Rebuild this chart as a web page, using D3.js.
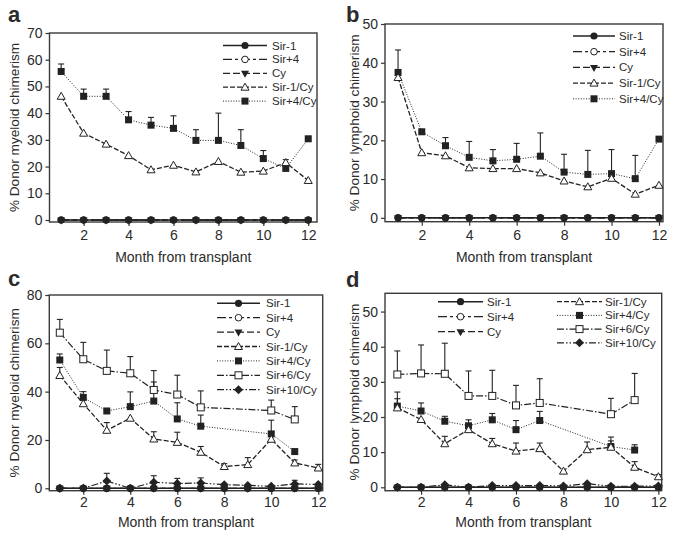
<!DOCTYPE html>
<html><head><meta charset="utf-8">
<script src="https://cdn.jsdelivr.net/npm/d3@7"></script>
<style>
body{margin:0;background:#fff}
svg{display:block}
text{font-family:"Liberation Sans",Arial,Helvetica,sans-serif;fill:#2b2b2b}
</style>
</head><body>
<svg id="chart" width="681" height="538"></svg>
<script>
// ---------- DATA ----------
const months = [1,2,3,4,5,6,7,8,9,10,11,12];
const xTickValues = [2,4,6,8,10,12];
const zeros = [0,0,0,0,0,0,0,0,0,0,0,0];

// Panel a: % donor myeloid chimerism
const aYTicks = [0,10,20,30,40,50,60,70];
const aSir1Cy   = [46.3,32.5,28.4,24.1,18.8,20.5,18.0,21.9,17.9,18.3,21.5,14.8];
const aSir4Cy   = [55.6,46.3,46.3,37.5,35.5,34.3,29.8,29.8,27.9,23.0,19.3,30.4];
const aSir4CyErr= [2.8,2.7,2.7,3.1,2.9,4.7,4.0,10.2,5.9,3.0,3.3,null];

// Panel b: % donor lymphoid chimerism
const bYTicks = [0,10,20,30,40,50];
const bSir1Cy   = [36.2,16.8,16.0,12.9,12.7,12.7,11.6,9.5,8.0,10.2,6.1,8.4];
const bSir4Cy   = [37.5,22.2,18.6,15.6,14.7,15.1,15.9,11.8,11.2,11.4,10.1,20.3];
const bSir4CyErr= [5.8,null,2.1,4.1,2.9,4.1,6.0,4.6,6.2,6.2,6.0,null];

// Panel c: % donor myeloid chimerism
const cYTicks = [0,20,40,60,80];
const cSir1Cy    = [46.7,35.0,24.0,29.0,20.4,19.0,14.9,9.0,9.8,20.3,10.5,8.4];
const cSir1CyErr = [3.3,2.6,3.2,null,3.0,4.2,2.4,1.2,2.9,3.0,1.2,1.5];
const cSir4Cy    = [53.1,37.6,32.0,33.8,36.1,28.7,25.7,null,null,22.5,15.2,null];
const cSir4CyErr = [2.5,2.4,null,6.1,7.9,6.7,4.6,null,null,5.7,null,null];
const cSir6Cy    = [64.4,53.4,48.6,47.6,40.7,38.8,33.5,null,null,32.2,28.5,null];
const cSir6CyErr = [5.5,7.0,8.6,6.9,8.0,8.0,6.8,null,null,4.3,5.3,null];
const cSir10Cy   = [0,0,3.0,0,2.5,2.0,2.2,1.5,1.2,0.8,1.8,1.6];
const cSir10CyErr= [null,null,3.2,null,2.7,2.1,2.1,null,null,null,1.5,null];

// Panel d: % donor lymphoid chimerism
const dYTicks = [0,10,20,30,40,50];
const dSir1Cy    = [22.6,19.3,12.4,16.4,12.4,10.3,11.0,4.6,10.7,11.4,5.7,3.0];
const dSir1CyErr = [2.6,null,2.1,null,1.5,2.3,1.6,null,2.2,1.8,1.6,0.6];
const dSir4Cy    = [23.1,21.7,18.8,17.5,19.2,16.4,19.0,null,null,11.6,10.6,null];
const dSir4CyErr = [4.0,2.3,1.4,1.7,1.8,2.6,2.6,null,null,2.7,1.5,null];
const dSir6Cy    = [32.1,32.4,32.3,26.0,26.0,23.3,24.0,null,null,20.8,24.8,null];
const dSir6CyErr = [6.7,8.1,8.7,7.1,7.3,5.7,6.9,null,null,4.5,7.6,null];
const dSir10Cy   = [0,0,0.7,0,0.5,0.5,0.5,0.4,1.0,0.3,0.3,0.4];

// ---------- STYLES ----------
const styles = {
  "Sir-1":     {dash:null,            marker:"circle",   w:1.6},
  "Sir+4":     {dash:"9,3,3,3",       marker:"ocircle",  w:1.3},
  "Cy":        {dash:"7,3",           marker:"tridown",  w:1.3},
  "Sir-1/Cy":  {dash:"5,2",           marker:"otri",     w:1.3},
  "Sir+4/Cy":  {dash:"1,1.6",         marker:"square",   w:1.0},
  "Sir+6/Cy":  {dash:"7,2,1.5,2",     marker:"osquare",  w:1.2},
  "Sir+10/Cy": {dash:"7,2,1.5,2,1.5,2", marker:"diamond", w:1.2}
};
const INK = "#222";

const svg = d3.select("#chart");

function marker(g, type, x, y){
  switch(type){
    case "circle":  g.append("circle").attr("cx",x).attr("cy",y).attr("r",3.6).attr("fill",INK); break;
    case "ocircle": g.append("circle").attr("cx",x).attr("cy",y).attr("r",3.3).attr("fill","#fff").attr("stroke",INK).attr("stroke-width",1); break;
    case "tridown": g.append("path").attr("d",`M${x-4},${y-2.5}L${x+4},${y-2.5}L${x},${y+4.5}Z`).attr("fill",INK); break;
    case "otri":    g.append("path").attr("d",`M${x-4},${y+3}L${x+4},${y+3}L${x},${y-4}Z`).attr("fill","#fff").attr("stroke",INK).attr("stroke-width",1); break;
    case "square":  g.append("rect").attr("x",x-3.5).attr("y",y-3.5).attr("width",7).attr("height",7).attr("fill",INK); break;
    case "osquare": g.append("rect").attr("x",x-3.5).attr("y",y-3.5).attr("width",7).attr("height",7).attr("fill","#fff").attr("stroke",INK).attr("stroke-width",1); break;
    case "diamond": g.append("path").attr("d",`M${x},${y-4.5}L${x+4.5},${y}L${x},${y+4.5}L${x-4.5},${y}Z`).attr("fill",INK); break;
  }
}

function drawPanel(p){
  const g = svg.append("g");
  const x = d3.scaleLinear().domain(p.xDomain).range([p.left,p.right]);
  const y = d3.scaleLinear().domain(p.yDomain).range([p.bottom,p.top]);

  const ya = g.append("g").attr("transform",`translate(${p.left},0)`)
    .call(d3.axisLeft(y).tickValues(p.yTicks).tickSize(4).tickPadding(3));
  const xa = g.append("g").attr("transform",`translate(0,${p.bottom})`)
    .call(d3.axisBottom(x).tickValues(xTickValues).tickSize(4).tickPadding(p.xPad));
  [ya,xa].forEach(a=>{
    a.select(".domain").remove();
    a.selectAll("line").attr("stroke","#333").attr("stroke-width",1.2);
    a.selectAll("text").attr("font-size",14).attr("fill","#2b2b2b").style("font-family",'"Liberation Sans",Arial,sans-serif');
  });
  g.append("rect").attr("x",p.left).attr("y",p.top).attr("width",p.right-p.left).attr("height",p.bottom-p.top)
    .attr("fill","none").attr("stroke","#3a3a3a").attr("stroke-width",1.4);

  g.append("text").attr("x",(p.left+p.right)/2).attr("y",p.xTitleY).attr("text-anchor","middle")
    .attr("font-size",14).text("Month from transplant");
  g.append("text").attr("transform",`translate(${p.yTitleX},${(p.top+p.bottom)/2}) rotate(-90)`)
    .attr("text-anchor","middle").attr("font-size",13.6).text(p.yTitle);
  g.append("text").attr("x",p.labelX).attr("y",p.labelY).attr("font-size",22).attr("font-weight","bold")
    .attr("fill","#111").text(p.label);

  const line = d3.line().x(d=>x(d.m)).y(d=>y(d.v));
  const order = p.series.slice().reverse();
  order.forEach(s=>{
    const st = styles[s.name];
    const pts = months.map((m,i)=>({m, v:s.values[i], e:s.err?s.err[i]:null})).filter(d=>d.v!=null);
    s.pts = pts;
    pts.forEach(d=>{
      if(d.e!=null){
        const yt = y(d.v+d.e);
        g.append("line").attr("x1",x(d.m)).attr("x2",x(d.m)).attr("y1",y(d.v)).attr("y2",yt).attr("stroke",INK).attr("stroke-width",1.1);
        g.append("line").attr("x1",x(d.m)-3).attr("x2",x(d.m)+3).attr("y1",yt).attr("y2",yt).attr("stroke",INK).attr("stroke-width",1.1);
      }
    });
    g.append("path").datum(pts).attr("d",line).attr("fill","none").attr("stroke",INK)
      .attr("stroke-width",st.w).attr("stroke-dasharray",st.dash);
  });
  order.forEach(s=>{
    const st = styles[s.name];
    s.pts.forEach(d=>marker(g, st.marker, x(d.m), y(d.v)));
  });

  p.legend.forEach(col=>{
    col.names.forEach((n,i)=>{
      const st = styles[n];
      const yy = col.y + i*col.dy;
      g.append("line").attr("x1",col.x1).attr("x2",col.x2).attr("y1",yy).attr("y2",yy)
        .attr("stroke",INK).attr("stroke-width",st.w).attr("stroke-dasharray",st.dash);
      marker(g, st.marker, (col.x1+col.x2)/2, yy);
      g.append("text").attr("x",col.tx).attr("y",yy+4).attr("font-size",11.5).text(n);
    });
  });
}

const base5 = ["Sir-1","Sir+4","Cy","Sir-1/Cy","Sir+4/Cy"];

drawPanel({label:"a", labelX:8, labelY:22, left:49.5, right:317, top:33, bottom:222,
  xDomain:[0.48,12.39], yDomain:[-0.75,70], yTicks:aYTicks, xPad:4,
  yTitle:"% Donor myeloid chimerism", yTitleX:19, xTitleY:262,
  series:[
    {name:"Sir-1", values:zeros},{name:"Sir+4", values:zeros},{name:"Cy", values:zeros},
    {name:"Sir-1/Cy", values:aSir1Cy},{name:"Sir+4/Cy", values:aSir4Cy, err:aSir4CyErr}],
  legend:[{names:base5, x1:223, x2:267, tx:272, y:45.5, dy:13.9}]
});

drawPanel({label:"b", labelX:346, labelY:22, left:385, right:663, top:24, bottom:221.7,
  xDomain:[0.45,12.17], yDomain:[-1,50], yTicks:bYTicks, xPad:4,
  yTitle:"% Donor lymphoid chimerism", yTitleX:359, xTitleY:262,
  series:[
    {name:"Sir-1", values:zeros},{name:"Sir+4", values:zeros},{name:"Cy", values:zeros},
    {name:"Sir-1/Cy", values:bSir1Cy},{name:"Sir+4/Cy", values:bSir4Cy, err:bSir4CyErr}],
  legend:[{names:base5, x1:573, x2:615, tx:619, y:36, dy:15.7}]
});

drawPanel({label:"c", labelX:8, labelY:286, left:49.3, right:322.7, top:295, bottom:490.7,
  xDomain:[0.553,12.19], yDomain:[-1,80], yTicks:cYTicks, xPad:2,
  yTitle:"% Donor myeloid chimerism", yTitleX:19, xTitleY:527,
  series:[
    {name:"Sir-1", values:zeros},{name:"Sir+4", values:zeros},{name:"Cy", values:zeros},
    {name:"Sir-1/Cy", values:cSir1Cy, err:cSir1CyErr},{name:"Sir+4/Cy", values:cSir4Cy, err:cSir4CyErr},
    {name:"Sir+6/Cy", values:cSir6Cy, err:cSir6CyErr},{name:"Sir+10/Cy", values:cSir10Cy, err:cSir10CyErr}],
  legend:[{names:["Sir-1","Sir+4","Cy","Sir-1/Cy","Sir+4/Cy","Sir+6/Cy","Sir+10/Cy"], x1:217, x2:260, tx:266, y:303.3, dy:14.4}]
});

drawPanel({label:"d", labelX:346, labelY:287, left:385, right:661.7, top:293.3, bottom:490.7,
  xDomain:[0.48,12.14], yDomain:[-0.97,55.2], yTicks:dYTicks, xPad:2,
  yTitle:"% Donor lymphoid chimerism", yTitleX:359, xTitleY:527,
  series:[
    {name:"Sir-1", values:zeros},{name:"Sir+4", values:zeros},{name:"Cy", values:zeros},
    {name:"Sir-1/Cy", values:dSir1Cy, err:dSir1CyErr},{name:"Sir+4/Cy", values:dSir4Cy, err:dSir4CyErr},
    {name:"Sir+6/Cy", values:dSir6Cy, err:dSir6CyErr},{name:"Sir+10/Cy", values:dSir10Cy}],
  legend:[{names:["Sir-1","Sir+4","Cy"], x1:438, x2:483, tx:487, y:301.7, dy:15},
          {names:["Sir-1/Cy","Sir+4/Cy","Sir+6/Cy","Sir+10/Cy"], x1:557, x2:602, tx:605, y:301.7, dy:13.7}]
});
</script>
</body></html>
